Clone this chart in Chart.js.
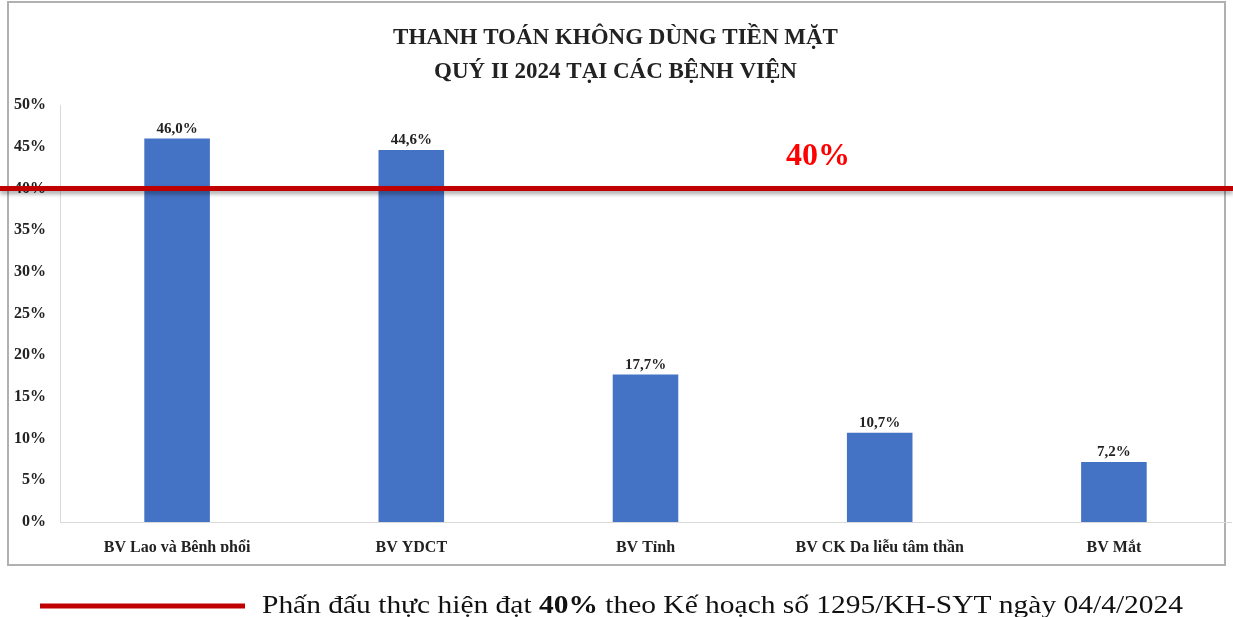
<!DOCTYPE html>
<html>
<head>
<meta charset="utf-8">
<script src="https://cdn.jsdelivr.net/npm/chart.js@4"></script>
<style>
  html, body { margin: 0; padding: 0; background: #fff; }
  #wrap { position: relative; width: 1233px; height: 617px; }
</style>
</head>
<body>
<div id="wrap"><canvas id="chart" width="1233" height="617"></canvas></div>
<script>
const hospitals = ['BV Lao và Bệnh phổi', 'BV YDCT', 'BV Tỉnh', 'BV CK Da liễu tâm thần', 'BV Mắt'];
const cashlessRates = [46.0, 44.6, 17.7, 10.7, 7.2];
const targetRate = 40;
const yTicks = [0, 5, 10, 15, 20, 25, 30, 35, 40, 45, 50];
const titleLines = ['THANH TOÁN KHÔNG DÙNG TIỀN MẶT', 'QUÝ II 2024 TẠI CÁC BỆNH VIỆN'];
const legendText = ['Phấn đấu thực hiện đạt ', '40%', ' theo Kế hoạch số 1295/KH-SYT ngày 04/4/2024'];

const serif = '"Liberation Serif", "DejaVu Serif", serif';

// box around chart, target line, value labels, legend
const extras = {
    id: 'extras',
    beforeDraw(chart) {
        const ctx = chart.ctx;
        ctx.save();
        ctx.strokeStyle = '#b0b0b0';
        ctx.lineWidth = 2;
        ctx.strokeRect(8, 2, 1217, 563);
        ctx.restore();
    },
    afterDatasetsDraw(chart) {
        const ctx = chart.ctx;
        const meta = chart.getDatasetMeta(0);
        ctx.save();
        ctx.font = 'bold 15px ' + serif;
        ctx.fillStyle = '#222';
        ctx.textAlign = 'center';
        ctx.textBaseline = 'bottom';
        meta.data.forEach((bar, i) => {
            ctx.fillText(cashlessRates[i].toFixed(1).replace('.', ',') + '%', bar.x, bar.y - 2);
        });

        // target line across whole width
        const y = chart.scales.y.getPixelForValue(targetRate);
        ctx.shadowColor = 'rgba(0,0,0,0.35)';
        ctx.shadowOffsetY = 3;
        ctx.shadowBlur = 4;
        ctx.strokeStyle = '#c00000';
        ctx.lineWidth = 5;
        ctx.beginPath();
        ctx.moveTo(0, y);
        ctx.lineTo(1233, y);
        ctx.stroke();
        ctx.shadowColor = 'transparent';

        ctx.font = 'bold 32px ' + serif;
        ctx.fillStyle = '#ff0000';
        ctx.textAlign = 'left';
        ctx.textBaseline = 'alphabetic';
        ctx.fillText(targetRate + '%', 786, 165);

        // legend
        ctx.strokeStyle = '#c00000';
        ctx.lineWidth = 5;
        ctx.beginPath();
        ctx.moveTo(40, 606);
        ctx.lineTo(245, 606);
        ctx.stroke();
        ctx.fillStyle = '#111';
        let total = 0;
        legendText.forEach((part, i) => {
            ctx.font = (i === 1 ? 'bold ' : '') + '25px ' + serif;
            total += ctx.measureText(part).width;
        });
        const sx = 921 / total;
        ctx.translate(262, 613);
        ctx.scale(sx, 1);
        let x = 0;
        legendText.forEach((part, i) => {
            ctx.font = (i === 1 ? 'bold ' : '') + '25px ' + serif;
            ctx.fillText(part, x, 0);
            x += ctx.measureText(part).width;
        });
        ctx.restore();
    }
};

new Chart(document.getElementById('chart'), {
    type: 'bar',
    data: {
        labels: hospitals,
        datasets: [{
            data: cashlessRates,
            backgroundColor: '#4472c4',
            categoryPercentage: 1,
            barPercentage: 0.28
        }]
    },
    plugins: [extras],
    options: {
        responsive: false,
        animation: false,
        layout: { padding: { left: 0, right: 2, top: 0, bottom: 65 } },
        plugins: {
            legend: { display: false },
            tooltip: { enabled: false },
            title: {
                display: true,
                text: titleLines,
                color: '#222',
                font: { family: serif, size: 23, weight: 'bold', lineHeight: 1.48 },
                padding: { top: 21, bottom: 16 }
            }
        },
        scales: {
            x: {
                grid: { display: false },
                border: { color: '#d9d9d9' },
                afterFit: axis => { axis.height = 30; },
                ticks: { color: '#222', font: { family: serif, size: 16, weight: 'bold' }, padding: 8 }
            },
            y: {
                min: 0,
                max: 50,
                afterBuildTicks: axis => { axis.ticks = yTicks.map(v => ({ value: v })); },
                afterFit: axis => { axis.width = 60; },
                grid: { display: false },
                border: { color: '#d9d9d9' },
                ticks: {
                    color: '#222',
                    font: { family: serif, size: 16, weight: 'bold' },
                    padding: 6,
                    callback: v => v + '%'
                }
            }
        }
    }
});
</script>
</body>
</html>
